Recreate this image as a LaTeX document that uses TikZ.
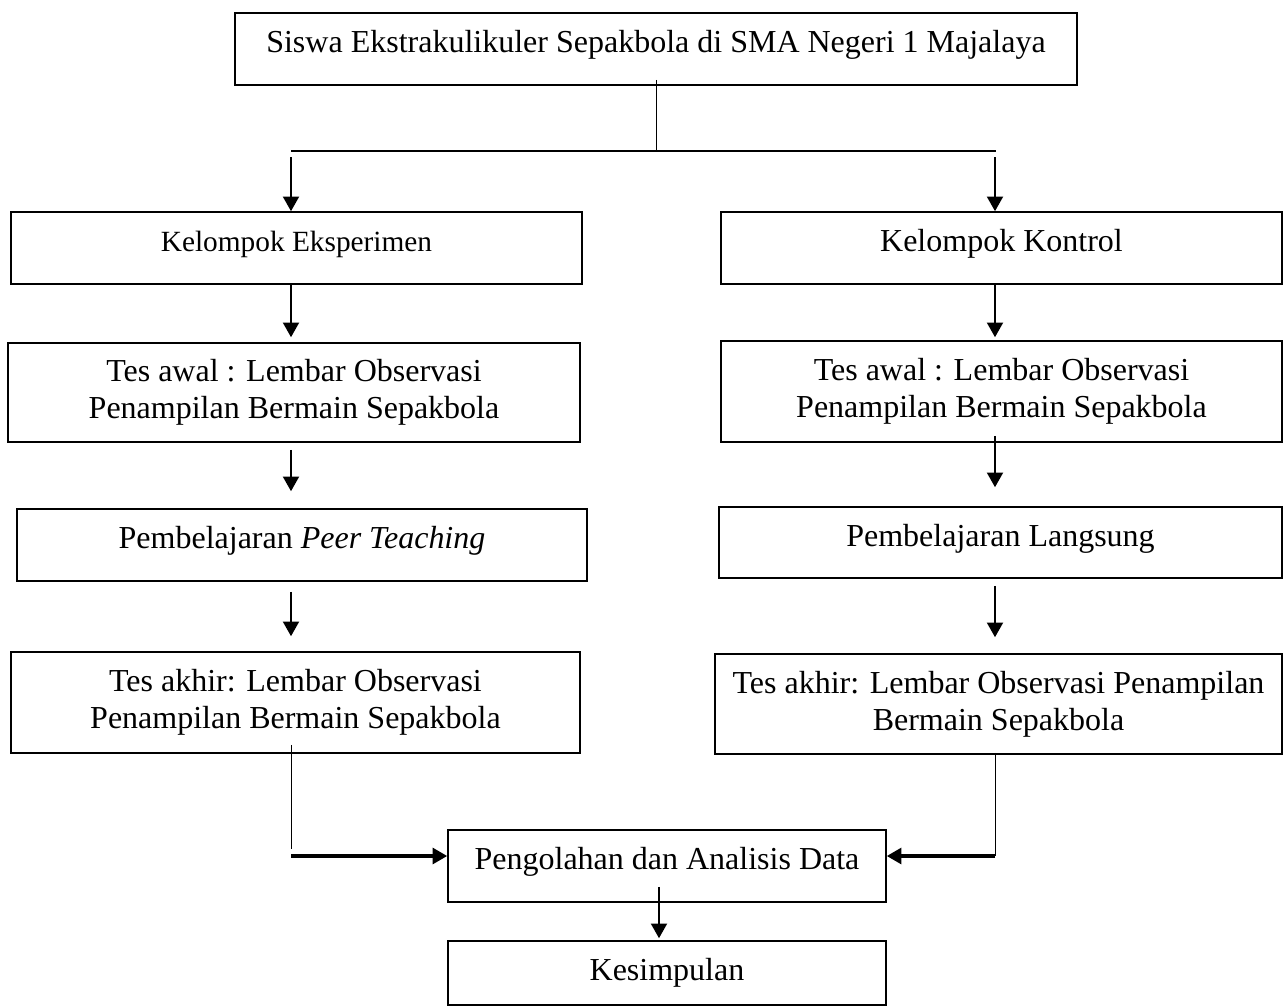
\documentclass[tikz,border=0pt]{standalone}
\usepackage{fontspec}
\setmainfont{Liberation Serif}
\usetikzlibrary{arrows.meta,calc}

\begin{document}
\begin{tikzpicture}[x=0.75pt,y=-0.75pt,>={Triangle[length=11pt,width=12pt]},
  box/.style={draw,line width=1.2pt,inner sep=0pt,align=center,
    font=\fontsize{24pt}{27.6pt}\selectfont},
  one/.style={text height=16.8pt,text depth=11.5pt},
  arr/.style={->,line width=1.5pt},
  feed/.style={->,line width=2.4pt},
  thinl/.style={line width=0.7pt}]
  \useasboundingbox (0,0) rectangle (1283,1007);
  \node[box,one,minimum width=631.5pt,minimum height=54pt] (siswa) at (656,49)
    {Siswa Ekstrakulikuler Sepakbola di SMA Negeri 1 Majalaya};
  \node[box,one,minimum width=428.25pt,minimum height=54pt,
    font=\fontsize{22pt}{25.3pt}\selectfont] (eks) at (296.5,248) {Kelompok Eksperimen};
  \node[box,one,minimum width=420.75pt,minimum height=54pt] (kon) at (1001.5,248) {Kelompok Kontrol};
  \node[box,minimum width=429pt,minimum height=74.25pt] (awalL) at (294,392.5)
    {Tes awal : Lembar Observasi\\Penampilan Bermain Sepakbola};
  \node[box,minimum width=420.75pt,minimum height=75.75pt] (awalR) at (1001.5,391.5)
    {Tes awal : Lembar Observasi\\Penampilan Bermain Sepakbola};
  \node[box,one,minimum width=427.5pt,minimum height=54pt] (peer) at (302,545)
    {Pembelajaran \textit{Peer Teaching}};
  \node[box,one,minimum width=422.25pt,minimum height=53.25pt] (lang) at (1000.5,542.5)
    {Pembelajaran Langsung};
  \node[box,minimum width=426.75pt,minimum height=75.75pt] (akhirL) at (295.5,702.5)
    {Tes akhir: Lembar Observasi\\Penampilan Bermain Sepakbola};
  \node[box,minimum width=425.25pt,minimum height=75pt] (akhirR) at (998.5,704)
    {Tes akhir: Lembar Observasi Penampilan\\Bermain Sepakbola};
  \node[box,one,minimum width=328.5pt,minimum height=54pt] (olah) at (667,866)
    {Pengolahan dan Analisis Data};
  \node[box,minimum width=328.5pt,minimum height=48pt] (kes) at (667,973) {Kesimpulan};

  \coordinate (colL) at (291,0);
  \coordinate (colR) at (995,0);
  \coordinate (colM) at (659,0);
  \coordinate (fork) at (656,151);
  \coordinate (meetL) at (291,856);
  \coordinate (meetR) at (995,856);

  \draw[thinl] ($(siswa.south)+(0,-6)$) -- (fork);
  \draw[line width=0.9pt] (fork -| colL) -- ($(fork -| colR)+(1,0)$);
  \draw[arr] ($(fork -| colL)+(0,6)$) -- (eks.north -| colL);
  \draw[arr] ($(fork -| colR)+(0,6)$) -- (kon.north -| colR);

  \draw[arr] (eks.south -| colL) -- ($(awalL.north -| colL)+(0,-5)$);
  \draw[arr] ($(awalL.south -| colL)+(0,7)$) -- ($(peer.north -| colL)+(0,-17)$);
  \draw[arr] ($(peer.south -| colL)+(0,10)$) -- ($(akhirL.north -| colL)+(0,-15)$);

  \draw[arr] (kon.south -| colR) -- ($(awalR.north -| colR)+(0,-3)$);
  \draw[arr] ($(awalR.south -| colR)+(0,-7)$) -- ($(lang.north -| colR)+(0,-19)$);
  \draw[arr] ($(lang.south -| colR)+(0,7)$) -- ($(akhirR.north -| colR)+(0,-16)$);

  \draw[thinl] ($(akhirL.south -| meetL)+(0,-9)$) -- ($(meetL)+(0,-7)$);
  \draw[feed] (meetL) -- (meetL -| olah.west);
  \draw[thinl] ($(akhirR.south -| meetR)+(0,-2)$) -- (meetR);
  \draw[feed] (meetR) -- (meetR -| olah.east);

  \draw[arr] ($(olah.south -| colM)+(0,-16)$) -- ($(kes.north -| colM)+(0,-2)$);
\end{tikzpicture}
\end{document}
